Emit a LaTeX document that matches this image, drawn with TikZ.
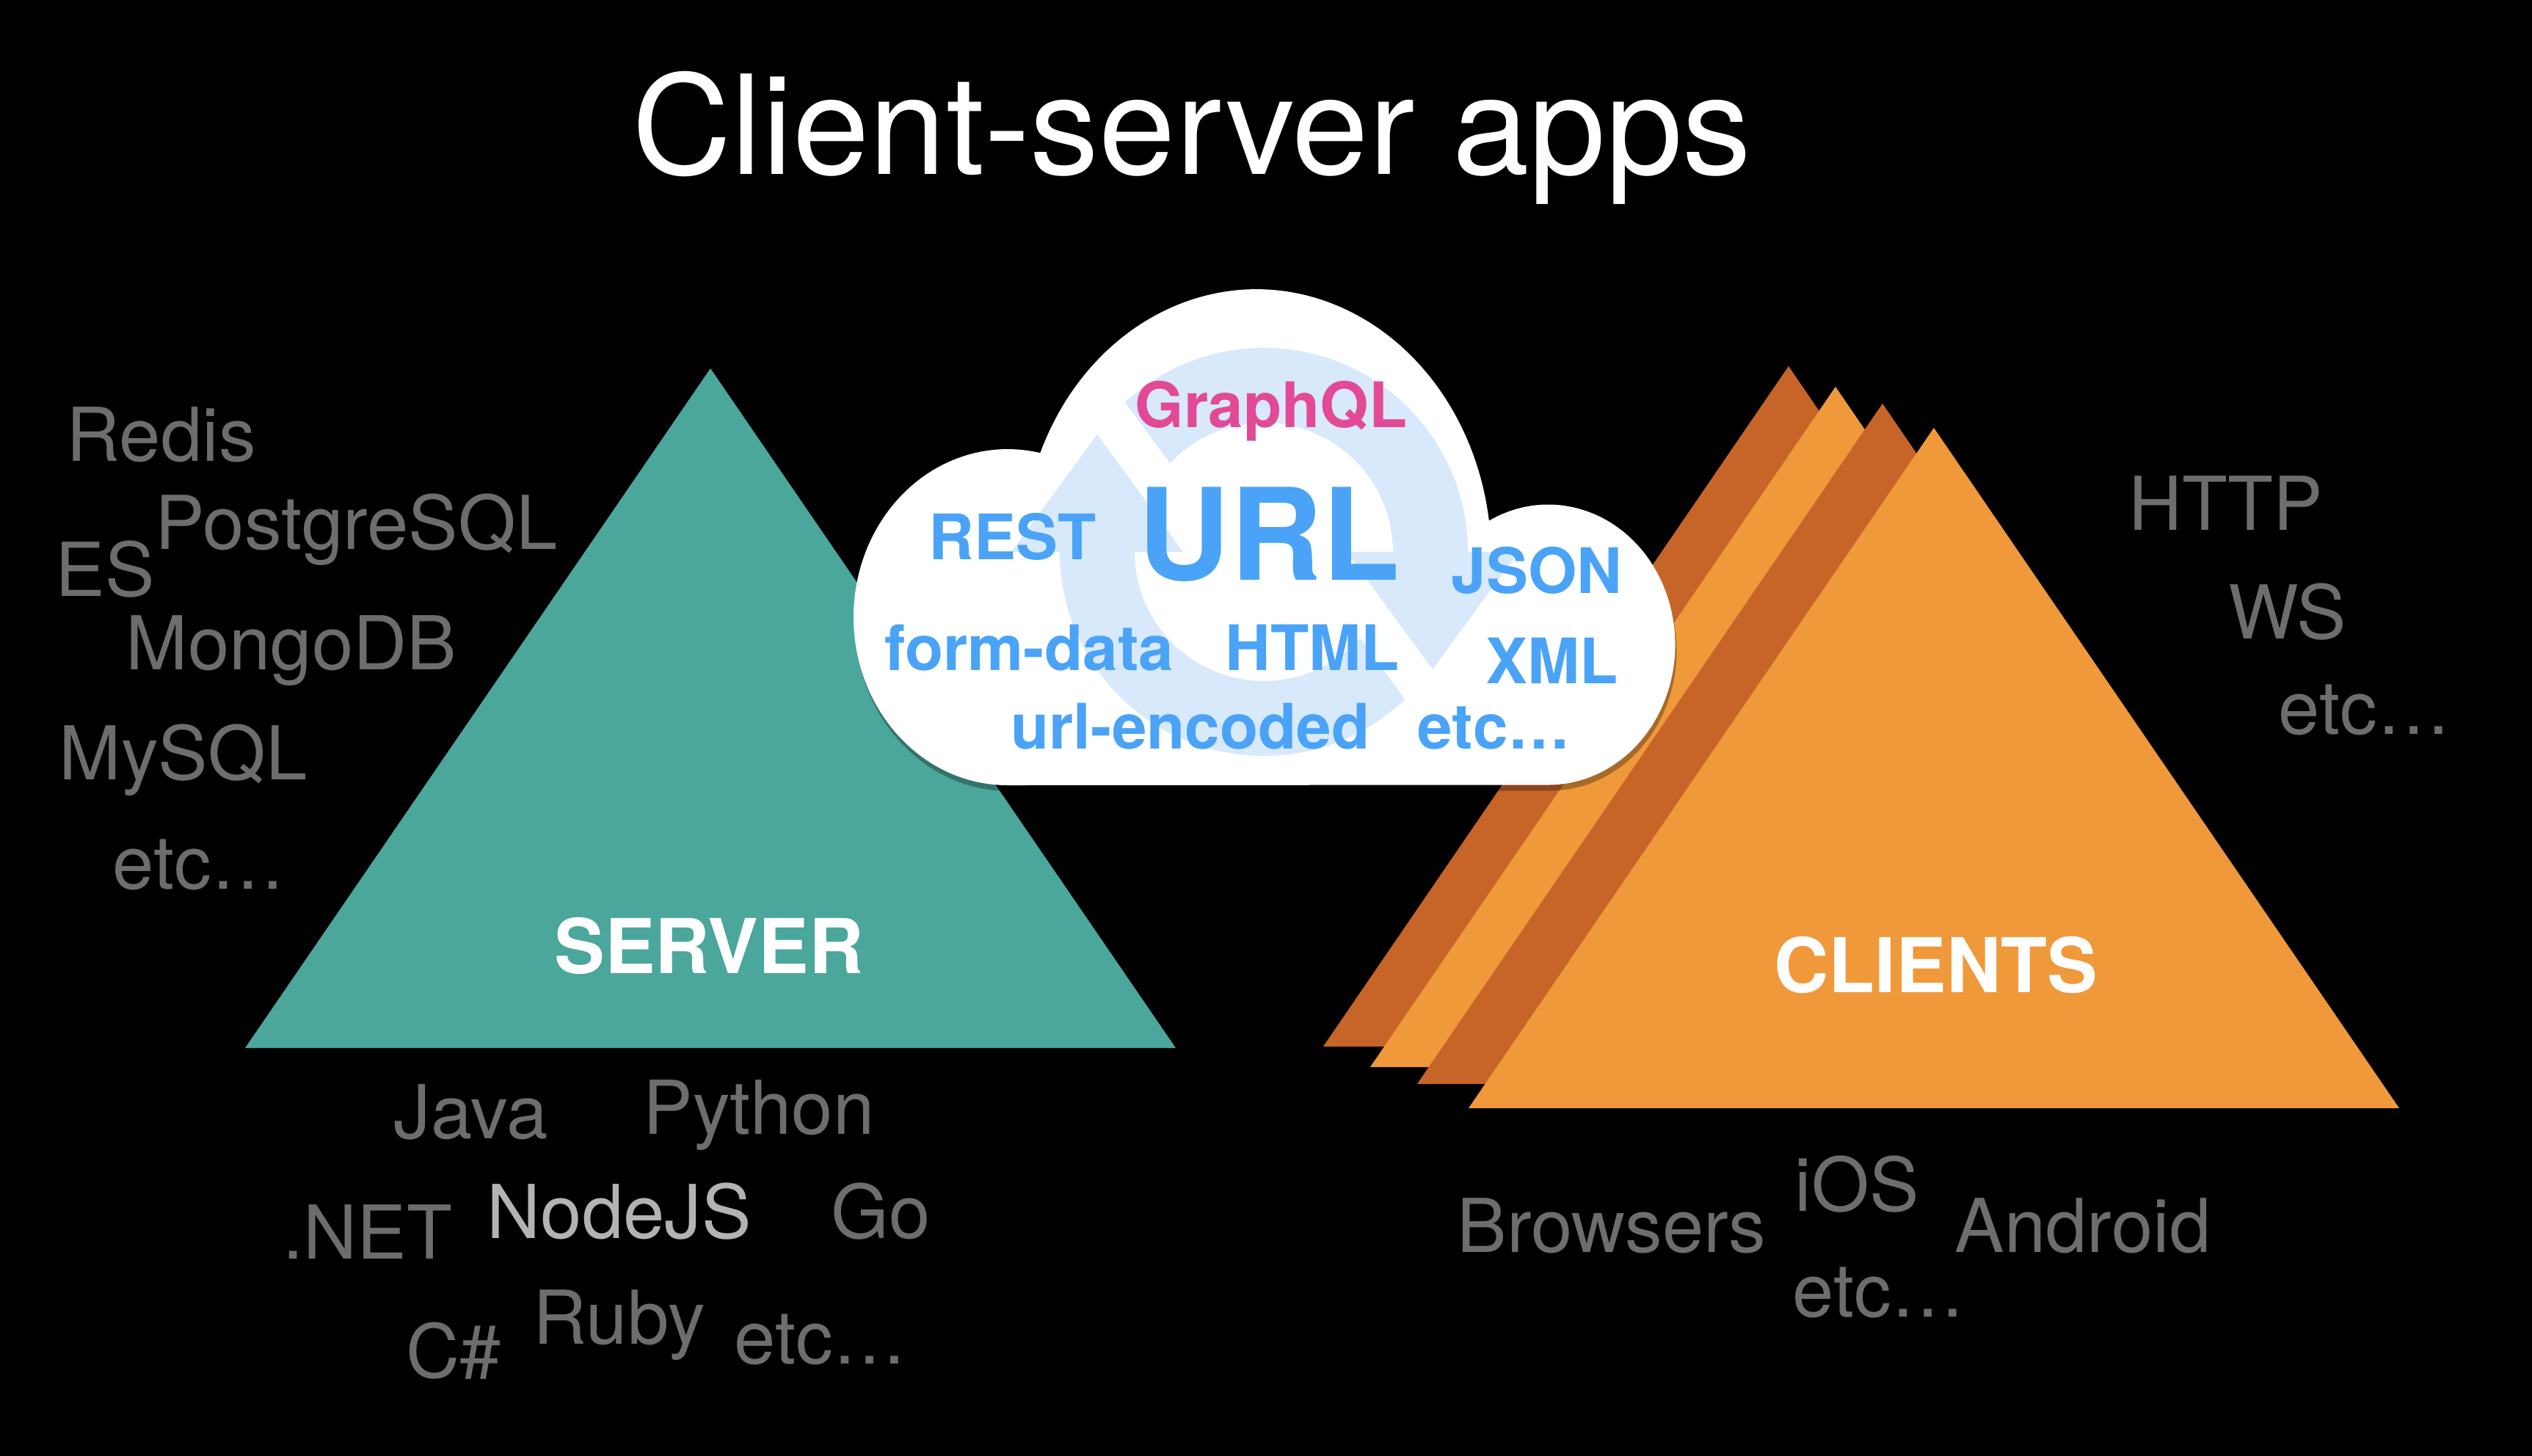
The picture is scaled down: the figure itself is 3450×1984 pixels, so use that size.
\documentclass[tikz,border=0pt]{standalone}
\usepackage{fontspec}
\setmainfont{TeX Gyre Heros}
\definecolor{srvteal}{HTML}{4BA69C}
\definecolor{orlight}{HTML}{F0993B}
\definecolor{ordark}{HTML}{C76528}
\definecolor{lblgray}{HTML}{6D6D6D}
\definecolor{nodegray}{HTML}{B3B3B3}
\definecolor{urlblue}{HTML}{4AA3F7}
\definecolor{gqlpink}{HTML}{E24A97}
\definecolor{iconblue}{HTML}{D7E9FA}
\tikzset{
  graylbl/.style={anchor=base west, inner sep=0pt, text=lblgray, font=\fontsize{28.8}{32}\selectfont},
  cloudlbl/.style={anchor=base west, inner sep=0pt, text=urlblue, font=\bfseries\fontsize{24.3}{27}\selectfont},
  triname/.style={anchor=base, inner sep=0pt, text=white, font=\bfseries\fontsize{29.3}{32}\selectfont},
  trishadow/.style={fill=black, opacity=0.28},
}
\begin{document}
\begin{tikzpicture}[x=0.01cm, y=-0.01cm]
% background
\fill[black] (0,0) rectangle (3450,1984);
\useasboundingbox (0,0) rectangle (3450,1984);

% client stack (back to front, each with a slight shadow)
\fill[ordark]  (2437,499) -- ++(-634,927) -- ++(1268,0) -- cycle;
\fill[trishadow] (2501,535) -- ++(-634,927) -- ++(1268,0) -- cycle;
\fill[orlight] (2501,527) -- ++(-634,927) -- ++(1268,0) -- cycle;
\fill[trishadow] (2565,558) -- ++(-634,927) -- ++(1268,0) -- cycle;
\fill[ordark]  (2565,550) -- ++(-634,927) -- ++(1268,0) -- cycle;
\fill[trishadow] (2635,591) -- ++(-634,927) -- ++(1268,0) -- cycle;
\fill[orlight] (2635,583) -- ++(-634,927) -- ++(1268,0) -- cycle;

% server
\fill[srvteal] (968,502) -- (334,1428) -- (1602,1428) -- cycle;

% cloud shadow
\fill[black, opacity=0.3, shift={(2,8)}] (1373,1070)
  arc[start angle=90, end angle=282.2, x radius=210, y radius=229]
  arc[start angle=203.0, end angle=352.05, x radius=320, y radius=366]
  arc[start angle=242.2, end angle=450, x radius=173, y radius=191] -- cycle;
% cloud
\fill[white] (1373,1070)
  arc[start angle=90, end angle=282.2, x radius=210, y radius=229]
  arc[start angle=203.0, end angle=352.05, x radius=320, y radius=366]
  arc[start angle=242.2, end angle=450, x radius=173, y radius=191] -- cycle;

% cycle icon inside the cloud
\coordinate (ic) at (1722,752);
\fill[iconblue] (ic) ++(227.2:278) arc[start angle=227.2, end angle=360, radius=278] -- ++(-102,0) arc[start angle=360, end angle=223.4, radius=176] -- cycle;
\fill[iconblue] (1835,752) -- (2069,752) -- (1952,912) -- cycle;
\fill[iconblue] (ic) ++(46.3:278) arc[start angle=46.3, end angle=180, radius=278] -- ++(102,0) arc[start angle=180, end angle=41.8, radius=176] -- cycle;
\fill[iconblue] (1378,752) -- (1612,752) -- (1495,592) -- cycle;

% title
\node[anchor=base, inner sep=0pt, text=white, font=\fontsize{53.4}{60}\selectfont] (title) at (1624,237) {Client-server apps};

% cloud labels
\node[cloudlbl, text=gqlpink] (gql) at (1546,582) {GraphQL};
\node[cloudlbl, font=\bfseries\fontsize{49.4}{52}\selectfont] (url) at (1550,790) {URL};
\node[cloudlbl] (rest) at (1265,762) {REST};
\node[cloudlbl] (json) at (1977,808) {JSON};
\node[cloudlbl] (formdata) at (1205,913) {form-data};
\node[cloudlbl] (html) at (1669,913) {HTML};
\node[cloudlbl] (xml) at (2024,931) {XML};
\node[cloudlbl] (urlenc) at (1377,1020) {url-encoded};
\node[cloudlbl] (cetc) at (1931,1020) {etc…};

% triangle names
\node[triname] (server) at (966,1326) {SERVER};
\node[triname] (clients) at (2638,1352) {CLIENTS};

% database labels
\node[graylbl] (redis) at (90,628) {Redis};
\node[graylbl] (pg) at (211,748) {PostgreSQL};
\node[graylbl] (es) at (75,812) {ES};
\node[graylbl] (mongo) at (171,912) {MongoDB};
\node[graylbl] (mysql) at (80,1062) {MySQL};
\node[graylbl] (dbetc) at (153,1211) {etc…};

% server languages
\node[graylbl] (java) at (536,1551) {Java};
\node[graylbl] (python) at (876,1545) {Python};
\node[graylbl] (dotnet) at (385,1715) {.NET};
\node[graylbl, text=nodegray] (nodejs) at (663,1687) {NodeJS};
\node[graylbl] (go) at (1132,1687) {Go};
\node[graylbl] (csharp) at (553,1877) {C\#};
\node[graylbl] (ruby) at (726,1831) {Ruby};
\node[graylbl] (langetc) at (1000,1858) {etc…};

% protocols
\node[graylbl] (http) at (2900,722) {HTTP};
\node[graylbl] (ws) at (3036,870) {WS};
\node[graylbl] (protetc) at (3104,1000) {etc…};

% client platforms
\node[graylbl] (browsers) at (1985,1706) {Browsers};
\node[graylbl] (ios) at (2445,1650) {iOS};
\node[graylbl] (android) at (2663,1706) {Android};
\node[graylbl] (cletc) at (2442,1794) {etc…};
\end{tikzpicture}
\end{document}
